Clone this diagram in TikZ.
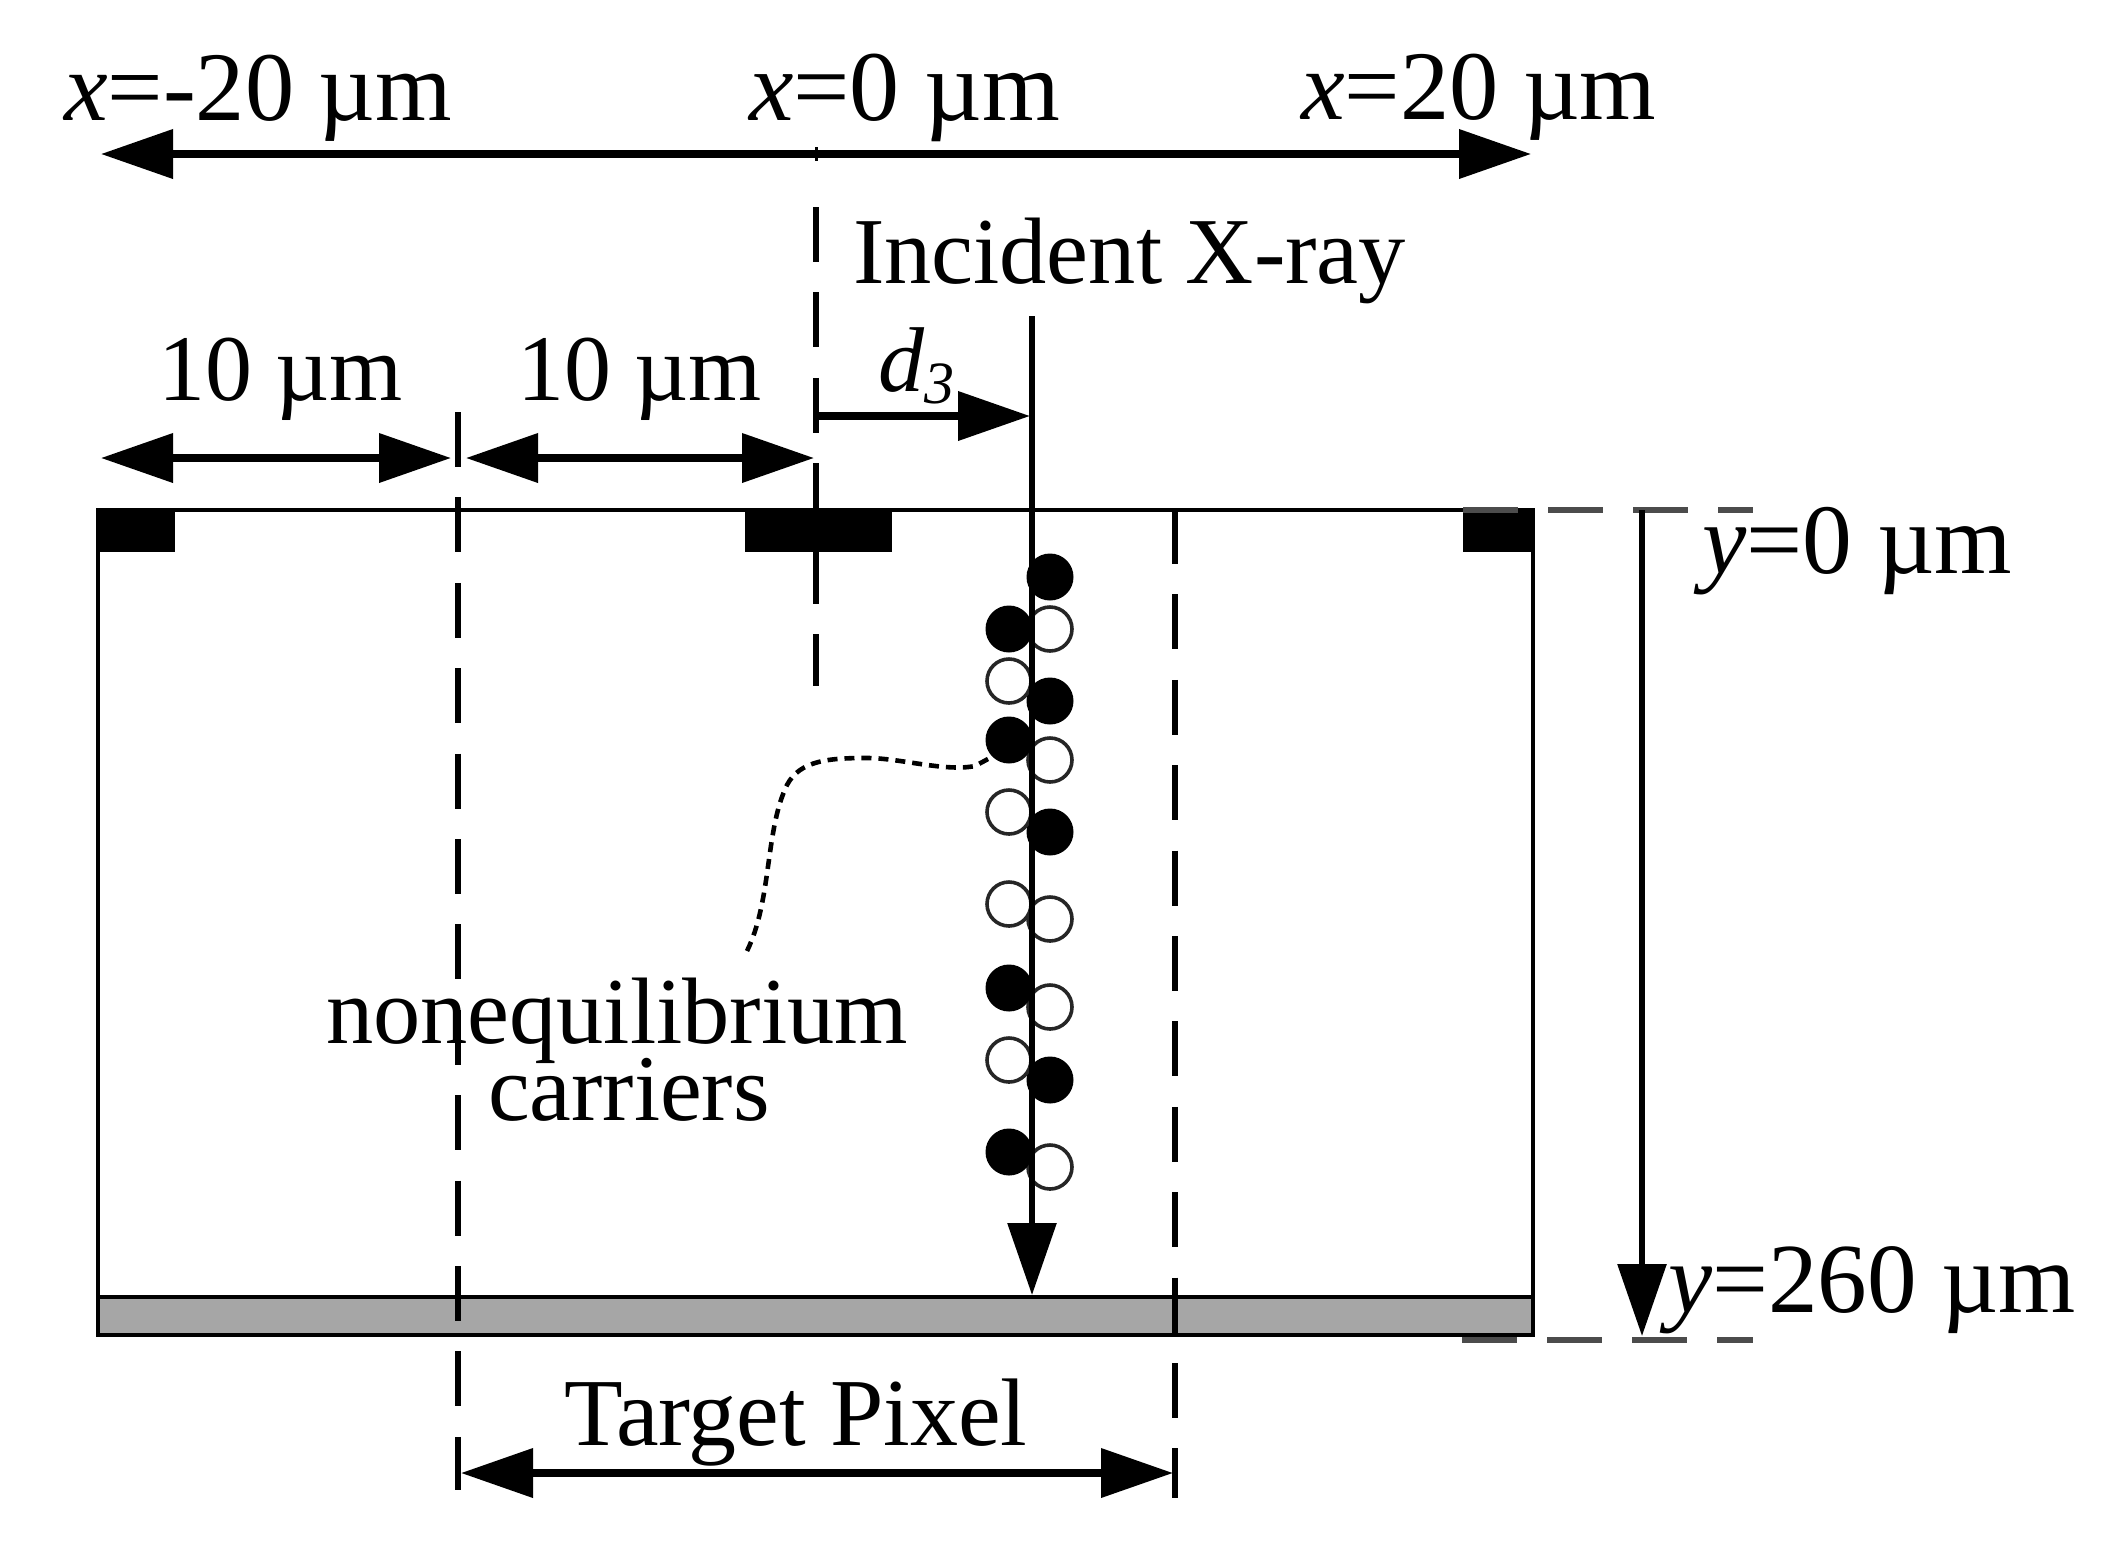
\documentclass[tikz,border=0pt]{standalone}
\usepackage{fontspec}
\setmainfont{Liberation Serif}
\usetikzlibrary{arrows.meta}
\definecolor{bandgrey}{HTML}{A6A6A6}
\newcommand{\fs}[1]{\fontsize{#1}{#1}\selectfont}
\tikzset{
  lab/.style={inner sep=0pt,outer sep=0pt,anchor=base west,text=black},
  dim/.style={line width=3.6pt,{Triangle[length=36pt,width=24pt]}-{Triangle[length=36pt,width=24pt]}},
  onearrow/.style={line width=3pt,-{Triangle[length=36pt,width=24pt]}},
  guide/.style={line width=2.7pt,dash pattern=on 27.5pt off 15.2pt},
  hguide/.style={line width=3.2pt,black!70,dash pattern=on 27.5pt off 15pt},
  solidbox/.style={fill=black,draw=none},
  filledc/.style={circle,fill=black,draw=black,line width=1.5pt,minimum size=22pt,inner sep=0pt},
  openc/.style={circle,fill=white,draw=black!85,line width=1.8pt,minimum size=22pt,inner sep=0pt},
}
\begin{document}
\begin{tikzpicture}[x=0.5pt,y=-0.5pt]
\useasboundingbox (0,0) rectangle (2106,1544);
\fill[white] (0,0) rectangle (2106,1544);

% device body
\draw[line width=2pt] (98,510) rectangle (1533,1335);
\draw[fill=bandgrey,line width=2pt] (98,1297) rectangle (1533,1335);
\fill[solidbox] (97,510) rectangle (175,552);
\fill[solidbox] (745,510) rectangle (892,552);
\fill[solidbox] (1463,510) rectangle (1534,552);

% carriers
\foreach \n/\py in {r1/577,r3/701,r5/832,r8/1080}
  \node[filledc] (\n) at (1050,\py) {};
\foreach \n/\py in {r2/629,r4/760,r6/919,r7/1007,r9/1167}
  \node[openc] (\n) at (1050,\py) {};
\foreach \n/\py in {l1/629,l3/740,l6/988,l8/1152}
  \node[filledc] (\n) at (1009,\py) {};
\foreach \n/\py in {l2/681,l4/812,l5/904,l7/1060}
  \node[openc] (\n) at (1009,\py) {};

% reference positions
\coordinate (topL) at (101,154);
\coordinate (topR) at (1531,154);
\coordinate (topTickA) at (816,147);
\coordinate (topTickB) at (816,161);
\coordinate (zeroA) at (816,207);
\coordinate (zeroB) at (816,686);
\coordinate (pixLA) at (458,412);
\coordinate (pixLB) at (458,1490);
\coordinate (pixRA) at (1175,509);
\coordinate (pixRB) at (1175,1498);
\coordinate (dimA) at (101,458);
\coordinate (dimB) at (451,458);
\coordinate (dimC) at (466,458);
\coordinate (dimD) at (814,458);
\coordinate (dA) at (816,416);
\coordinate (dB) at (1030,416);
\coordinate (xrayA) at (1032,316);
\coordinate (xrayB) at (1032,1295);
\coordinate (yA) at (1642,510);
\coordinate (yB) at (1642,1336);
\coordinate (gTopA) at (1463,510);
\coordinate (gTopB) at (1753,510);
\coordinate (gBotA) at (1462,1340);
\coordinate (gBotB) at (1753,1340);
\coordinate (pixA) at (461,1473);
\coordinate (pixB) at (1173,1473);
\coordinate (noteEnd) at (747,951);

% guides
\draw[line width=1.5pt] (topTickA) -- (topTickB);
\draw[guide] (zeroA) -- (zeroB);
\draw[guide] (pixLA) -- (pixLB);
\draw[guide] (pixRA) -- (pixRB);
\draw[hguide] (gTopA) -- (gTopB);
\draw[hguide] (gBotA) -- (gBotB);

% dimension arrows
\draw[dim] (topL) -- (topR);
\draw[dim] (dimA) -- (dimB);
\draw[dim] (dimC) -- (dimD);
\draw[dim] (pixA) -- (pixB);
\draw[line width=3.6pt,-{Triangle[length=36pt,width=24pt]}] (dA) -- (dB);
\draw[onearrow] (xrayA) -- (xrayB);
\draw[onearrow] (yA) -- (yB);

% leader to the carriers
\draw[line width=2.3pt,dash pattern=on 5pt off 3.5pt]
  (noteEnd) .. controls (772,900) and (765,830) .. (787,785)
  .. controls (800,760) and (830,758) .. (867,758)
  .. controls (900,758) and (945,772) .. (975,766)
  -- (l3.south west);

% labels
\node[lab,font=\fs{49.2}] (t1) at (64,120) {\textit{x}=-20 µm};
\node[lab,font=\fs{50}] (t2) at (749,120) {\textit{x}=0 µm};
\node[lab,font=\fs{49.2}] (t3) at (1301,119) {\textit{x}=20 µm};
\node[lab,font=\fs{47.2}] (t4) at (853,283) {Incident X-ray};
\node[lab,font=\fs{47}] (t5) at (158,400) {10 µm};
\node[lab,font=\fs{47}] (t6) at (517,400) {10 µm};
\node[lab,font=\fs{46}] (t7) at (878,391) {\textit{d}\raisebox{-6pt}{\fs{30}\textit{3}}};
\node[lab,font=\fs{49.8}] (t8) at (1702,573) {\textit{y}=0 µm};
\node[lab,font=\fs{49.6}] (t9) at (1668,1312) {\textit{y}=260 µm};
\node[lab,font=\fs{47.2}] (t10) at (326,1043) {nonequilibrium};
\node[lab,font=\fs{47}] (t11) at (488,1120) {carriers};
\node[lab,font=\fs{48}] (t12) at (564,1445) {Target Pixel};
\end{tikzpicture}
\end{document}
